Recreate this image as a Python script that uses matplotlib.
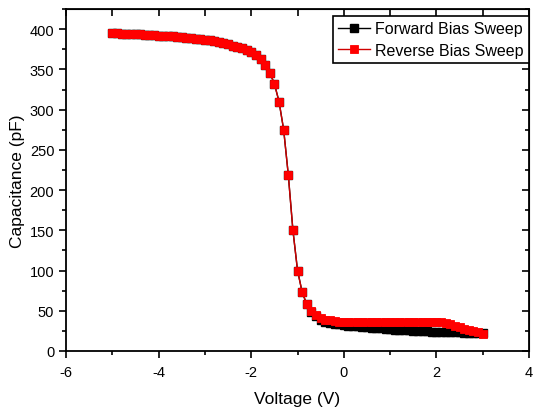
import matplotlib.pyplot as plt
from matplotlib.ticker import MultipleLocator

plt.rcParams['font.family'] = ['Liberation Sans', 'DejaVu Sans']
plt.rcParams['axes.unicode_minus'] = False

# sweep voltages (V), same grid for both sweeps
voltage = [-5.0, -4.9, -4.8, -4.7, -4.6, -4.5, -4.4, -4.3, -4.2, -4.1,
           -4.0, -3.9, -3.8, -3.7, -3.6, -3.5, -3.4, -3.3, -3.2, -3.1,
           -3.0, -2.9, -2.8, -2.7, -2.6, -2.5, -2.4, -2.3, -2.2, -2.1,
           -2.0, -1.9, -1.8, -1.7, -1.6, -1.5, -1.4, -1.3, -1.2, -1.1,
           -1.0, -0.9, -0.8, -0.7, -0.6, -0.5, -0.4, -0.3, -0.2, -0.1,
           0.0, 0.1, 0.2, 0.3, 0.4, 0.5, 0.6, 0.7, 0.8, 0.9,
           1.0, 1.1, 1.2, 1.3, 1.4, 1.5, 1.6, 1.7, 1.8, 1.9,
           2.0, 2.1, 2.2, 2.3, 2.4, 2.5, 2.6, 2.7, 2.8, 2.9, 3.0]

forward_pf = [395, 395, 394.5, 394.5, 394, 394, 393.5, 393, 393, 392.5,
              392, 392, 391.5, 391, 390.5, 390, 389.5, 389, 388, 387.5,
              387, 386, 385, 384, 382.5, 381, 379.5, 378, 376, 374,
              371.5, 368, 363, 356, 346, 332, 310, 275, 219, 150,
              100, 73, 58, 49, 43, 39, 36.5, 35, 34, 33,
              32, 31.5, 31, 30.5, 30, 29.5, 29, 28.5, 28, 27.5,
              27, 26.5, 26, 25.8, 25.5, 25.2, 25, 24.7, 24.5, 24.2,
              24, 23.8, 23.6, 23.4, 23.2, 23, 22.8, 22.6, 22.4, 22.2, 22]

reverse_pf = [395, 395, 394.5, 394.5, 394, 394, 393.5, 393, 393, 392.5,
              392, 392, 391.5, 391, 390.5, 390, 389.5, 389, 388, 387.5,
              387, 386, 385, 384, 382.5, 381, 379.5, 378, 376, 374,
              371.5, 368, 363, 356, 346, 332, 310, 275, 219, 150,
              100, 73, 58, 50, 45, 41, 39, 38, 37, 36.5,
              36, 36, 36, 36, 36, 36, 36, 36, 36, 36.2,
              36.3, 36.4, 36.5, 36.5, 36.5, 36.6, 36.6, 36.6, 36.5, 36.5,
              36.4, 36, 35, 33.5, 31.5, 29.5, 27.5, 26, 24.5, 23, 21.5]

fig = plt.figure(figsize=(5.33, 4.10), dpi=100)
ax = fig.add_axes([0.124, 0.1415, 0.8685, 0.834])

ax.plot(voltage, forward_pf, color='black', lw=1, marker='s', ms=5.5,
        mec='black', label='Forward Bias Sweep')
ax.plot(voltage, reverse_pf, color='#d00000', lw=1, marker='s', ms=5.5,
        mfc='red', mec='red', mew=0.6, label='Reverse Bias Sweep')

ax.set_xlim(-6, 4)
ax.set_ylim(0, 425)
ax.xaxis.set_major_locator(MultipleLocator(2))
ax.xaxis.set_minor_locator(MultipleLocator(1))
ax.yaxis.set_major_locator(MultipleLocator(50))
ax.yaxis.set_minor_locator(MultipleLocator(25))

ax.tick_params(which='both', direction='out', width=1.2, labelsize=10.5)
ax.tick_params(which='major', length=5)
ax.tick_params(which='minor', length=3)
ax.tick_params(axis='x', pad=5)
for s in ax.spines.values():
    s.set_linewidth(1.3)

# inward ticks on top and right, Origin style
top = ax.secondary_xaxis('top')
top.xaxis.set_major_locator(MultipleLocator(2))
top.xaxis.set_minor_locator(MultipleLocator(1))
top.tick_params(which='both', direction='in', labeltop=False, width=1.2)
top.tick_params(which='major', length=5)
top.tick_params(which='minor', length=5)
right = ax.secondary_yaxis('right')
right.yaxis.set_major_locator(MultipleLocator(50))
right.yaxis.set_minor_locator(MultipleLocator(25))
right.tick_params(which='both', direction='in', labelright=False, width=1.2)
right.tick_params(which='major', length=5)
right.tick_params(which='minor', length=3)

ax.set_xlabel('Voltage (V)', fontsize=12.5, labelpad=9)
ax.set_ylabel('Capacitance (pF)', fontsize=12.5, labelpad=3)

leg = ax.legend(loc='upper right', bbox_to_anchor=(1.0, 0.98), fontsize=11.5,
                numpoints=1, handlelength=2.0, fancybox=False, edgecolor='black',
                borderaxespad=0, borderpad=0.35, labelspacing=0.4,
                handletextpad=0.3, framealpha=1)
leg.get_frame().set_linewidth(1.2)

fig.savefig('out.png', dpi=100)
